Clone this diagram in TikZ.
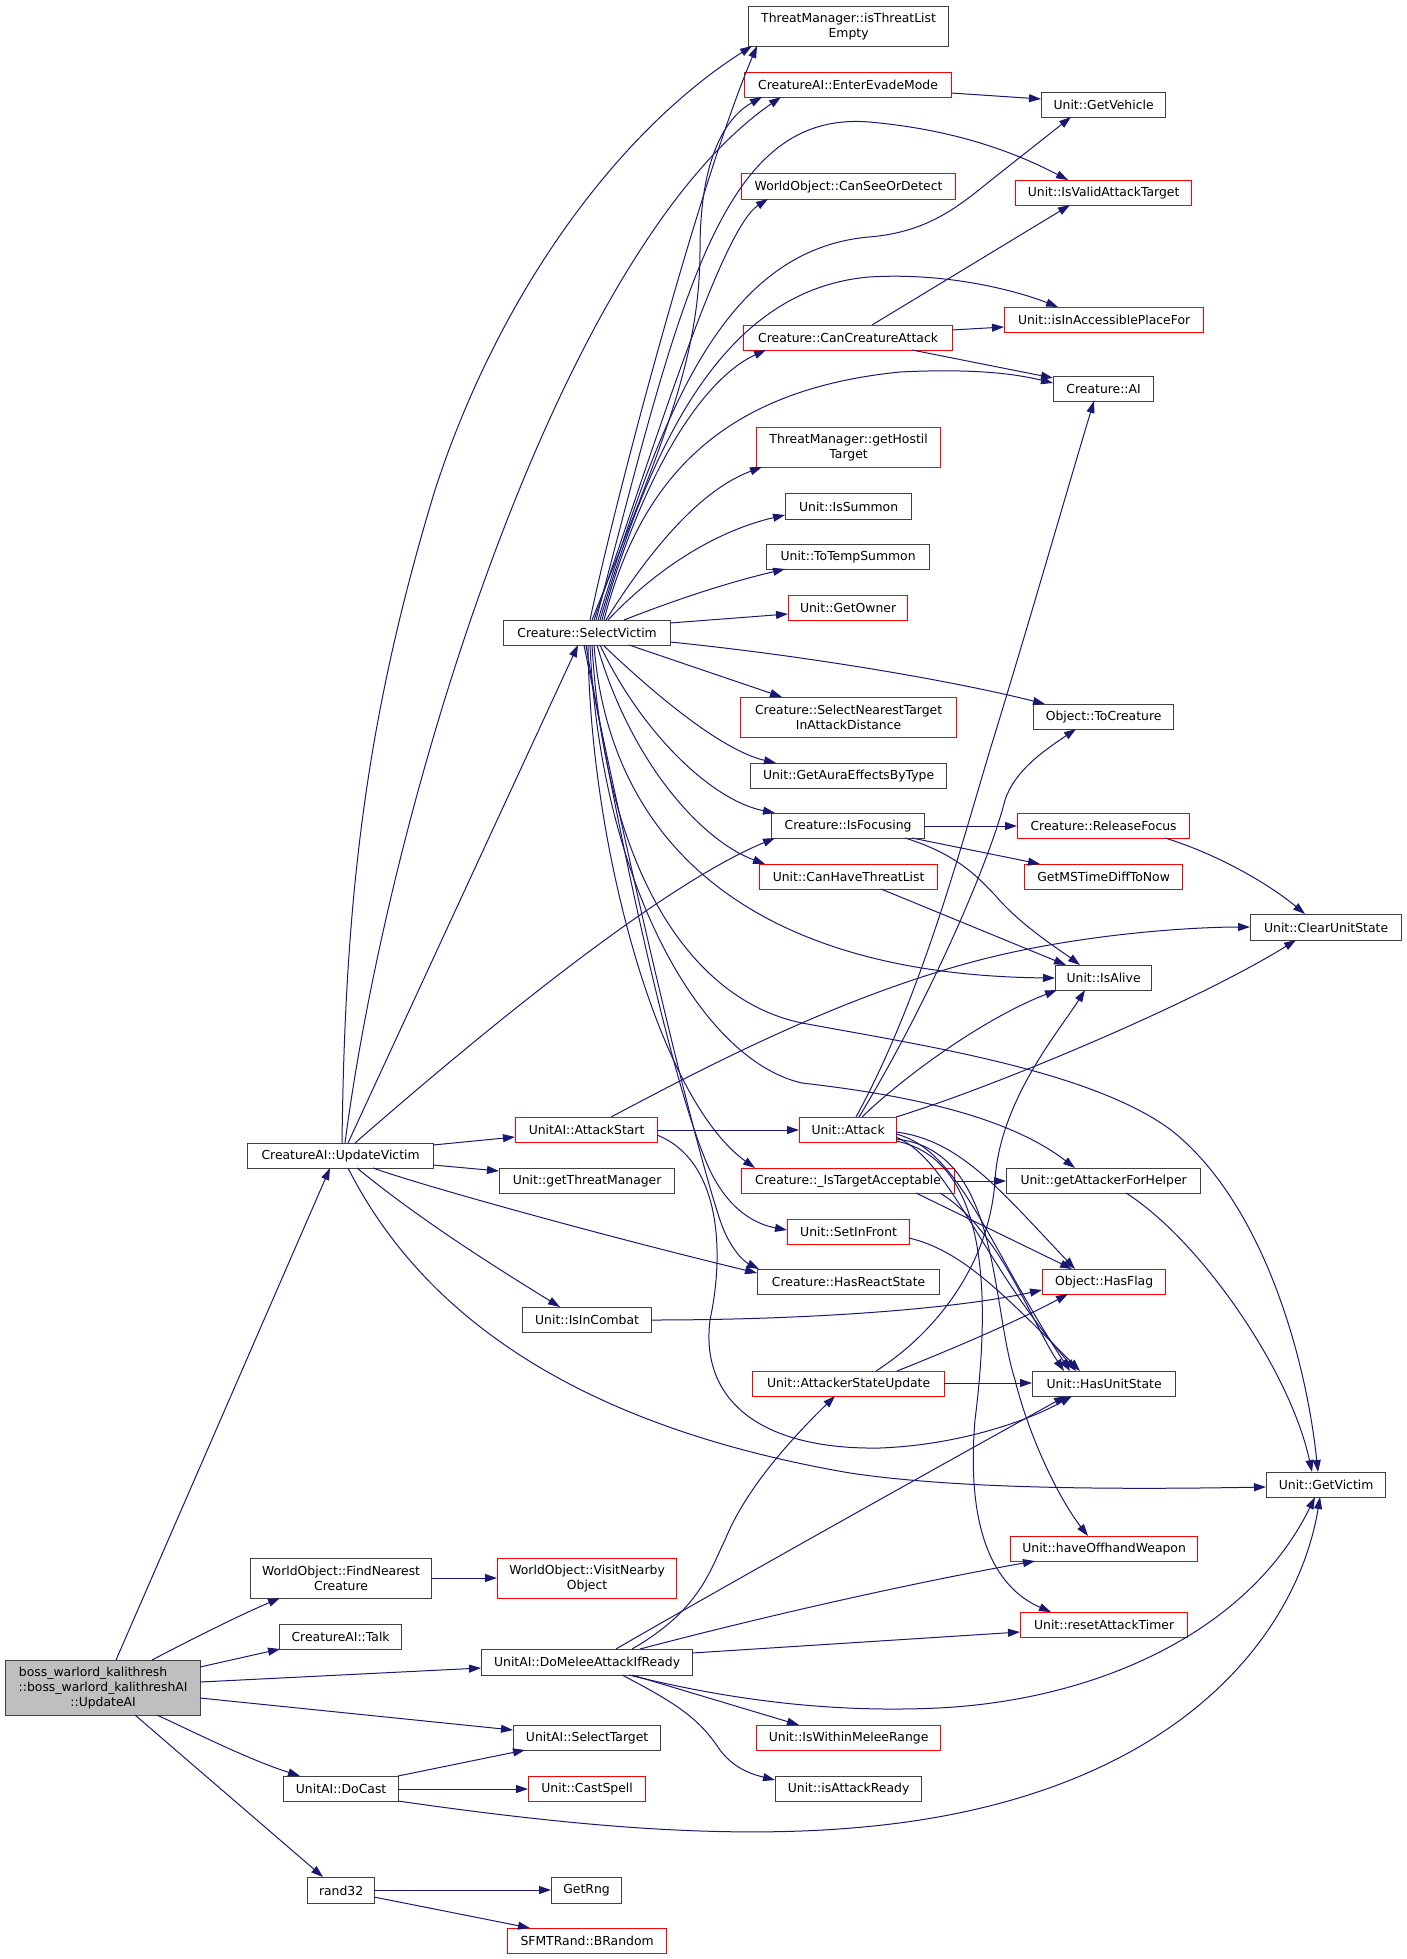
\documentclass[tikz,border=0pt]{standalone}
\usepackage{fontspec}
\setmainfont{DejaVu Sans}
\usetikzlibrary{arrows.meta}
\definecolor{edgec}{HTML}{191970}
\definecolor{boxk}{HTML}{404040}
\definecolor{boxr}{HTML}{FF0000}
\definecolor{bossf}{HTML}{BFBFBF}
\begin{document}
\begin{tikzpicture}[x=1pt,y=-1pt,
  nd/.style={draw=boxk, line width=1.2pt, fill=white, inner sep=0pt, anchor=north west, align=center, font=\fontsize{12.4}{15}\selectfont},
  rd/.style={nd, draw=boxr},
  e/.style={draw=edgec, line width=1pt, -{Triangle[length=12pt,width=8pt]}},
]
\fill[white] (0,0) rectangle (1407,1959);
\useasboundingbox (0,0) rectangle (1407,1959);

\node[nd,minimum width=200pt,minimum height=40pt] (ite) at (748,6) {ThreatManager::isThreatList\\Empty};
\node[rd,minimum width=207pt,minimum height=25pt] (eem) at (744,72) {CreatureAI::EnterEvadeMode};
\node[nd,minimum width=124pt,minimum height=25pt] (gv) at (1041,92) {Unit::GetVehicle};
\node[rd,minimum width=214pt,minimum height=26pt] (csd) at (741,173) {WorldObject::CanSeeOrDetect};
\node[rd,minimum width=176pt,minimum height=25pt] (ivat) at (1015,180) {Unit::IsValidAttackTarget};
\node[rd,minimum width=199pt,minimum height=25pt] (iapf) at (1004,307) {Unit::isInAccessiblePlaceFor};
\node[rd,minimum width=209pt,minimum height=25pt] (cca) at (743,325) {Creature::CanCreatureAttack};
\node[nd,minimum width=100pt,minimum height=25pt] (cai) at (1053,376) {Creature::AI};
\node[rd,minimum width=184pt,minimum height=40pt] (ght) at (756,427) {ThreatManager::getHostil\\Target};
\node[nd,minimum width=126pt,minimum height=26pt] (isu) at (785,493) {Unit::IsSummon};
\node[nd,minimum width=163pt,minimum height=25pt] (tts) at (766,544) {Unit::ToTempSummon};
\node[rd,minimum width=119pt,minimum height=25pt] (gow) at (788,595) {Unit::GetOwner};
\node[nd,minimum width=167pt,minimum height=25pt] (sv) at (503,620) {Creature::SelectVictim};
\node[rd,minimum width=216pt,minimum height=40pt] (snt) at (740,697) {Creature::SelectNearestTarget\\InAttackDistance};
\node[nd,minimum width=140pt,minimum height=25pt] (tcr) at (1033,704) {Object::ToCreature};
\node[nd,minimum width=196pt,minimum height=25pt] (gae) at (750,763) {Unit::GetAuraEffectsByType};
\node[nd,minimum width=153pt,minimum height=25pt] (isf) at (771,813) {Creature::IsFocusing};
\node[rd,minimum width=172pt,minimum height=25pt] (rf) at (1017,813) {Creature::ReleaseFocus};
\node[rd,minimum width=178pt,minimum height=25pt] (chtl) at (759,864) {Unit::CanHaveThreatList};
\node[rd,minimum width=158pt,minimum height=25pt] (gms) at (1024,864) {GetMSTimeDiffToNow};
\node[nd,minimum width=151pt,minimum height=26pt] (cus) at (1250,914) {Unit::ClearUnitState};
\node[nd,minimum width=96pt,minimum height=25pt] (ial) at (1055,965) {Unit::IsAlive};
\node[rd,minimum width=142pt,minimum height=25pt] (ast) at (515,1117) {UnitAI::AttackStart};
\node[rd,minimum width=97pt,minimum height=25pt] (att) at (799,1117) {Unit::Attack};
\node[nd,minimum width=186pt,minimum height=25pt] (uv) at (247,1143) {CreatureAI::UpdateVictim};
\node[nd,minimum width=175pt,minimum height=25pt] (gtm) at (499,1168) {Unit::getThreatManager};
\node[rd,minimum width=213pt,minimum height=25pt] (ita) at (741,1168) {Creature::\_IsTargetAcceptable};
\node[nd,minimum width=194pt,minimum height=25pt] (gafh) at (1006,1168) {Unit::getAttackerForHelper};
\node[rd,minimum width=122pt,minimum height=25pt] (sif) at (787,1219) {Unit::SetInFront};
\node[nd,minimum width=182pt,minimum height=25pt] (hrs) at (757,1269) {Creature::HasReactState};
\node[rd,minimum width=123pt,minimum height=25pt] (hfl) at (1042,1269) {Object::HasFlag};
\node[nd,minimum width=129pt,minimum height=25pt] (iic) at (522,1307) {Unit::IsInCombat};
\node[rd,minimum width=192pt,minimum height=25pt] (asu) at (752,1371) {Unit::AttackerStateUpdate};
\node[nd,minimum width=143pt,minimum height=25pt] (hus) at (1032,1371) {Unit::HasUnitState};
\node[nd,minimum width=119pt,minimum height=25pt] (gvi) at (1266,1472) {Unit::GetVictim};
\node[rd,minimum width=187pt,minimum height=25pt] (how) at (1010,1536) {Unit::haveOffhandWeapon};
\node[nd,minimum width=181pt,minimum height=40pt] (fnc) at (250,1558) {WorldObject::FindNearest\\Creature};
\node[rd,minimum width=179pt,minimum height=40pt] (vno) at (497,1558) {WorldObject::VisitNearby\\Object};
\node[rd,minimum width=167pt,minimum height=25pt] (rat) at (1020,1612) {Unit::resetAttackTimer};
\node[nd,minimum width=122pt,minimum height=25pt] (tlk) at (279,1624) {CreatureAI::Talk};
\node[nd,minimum width=211pt,minimum height=26pt] (dma) at (481,1649) {UnitAI::DoMeleeAttackIfReady};
\node[nd,fill=bossf,minimum width=195pt,minimum height=55pt] (boss) at (5,1660) {boss\_warlord\_kalithresh\kern20pt\\::boss\_warlord\_kalithreshAI\\::UpdateAI};
\node[nd,minimum width=147pt,minimum height=25pt] (slt) at (513,1725) {UnitAI::SelectTarget};
\node[rd,minimum width=184pt,minimum height=25pt] (iwm) at (756,1725) {Unit::IsWithinMeleeRange};
\node[nd,minimum width=115pt,minimum height=25pt] (dca) at (283,1776) {UnitAI::DoCast};
\node[rd,minimum width=117pt,minimum height=25pt] (csp) at (528,1776) {Unit::CastSpell};
\node[nd,minimum width=146pt,minimum height=25pt] (iar) at (775,1776) {Unit::isAttackReady};
\node[nd,minimum width=67pt,minimum height=26pt] (r32) at (307,1877) {rand32};
\node[nd,minimum width=70pt,minimum height=26pt] (grn) at (551,1877) {GetRng};
\node[rd,minimum width=159pt,minimum height=25pt] (brd) at (507,1928) {SFMTRand::BRandom};

% SelectVictim upward
\draw[e] ([shift={(87,0)}]sv.north west) .. controls (615,500) and (700,180) .. ([shift={(9,40)}]ite.north west);
\draw[e] ([shift={(89,0)}]sv.north west) .. controls (660,450) and (700,360) .. (700,250) .. controls (700,150) and (730,115) .. ([shift={(18,25)}]eem.north west);
\draw[e] ([shift={(91,0)}]sv.north west) .. controls (650,460) and (720,230) .. ([shift={(27,26)}]csd.north west);
\draw[e] ([shift={(93,0)}]sv.north west) .. controls (680,300) and (720,110) .. (869,122) .. controls (960,130) and (1020,155) .. ([shift={(53,0)}]ivat.north west);
\draw[e] ([shift={(95,0)}]sv.north west) .. controls (660,420) and (720,250) .. (869,237) .. controls (930,232) and (960,205) .. (995,177) -- ([shift={(30,25)}]gv.north west);
\draw[e] ([shift={(97,0)}]sv.north west) .. controls (650,450) and (720,290) .. (869,277) .. controls (950,272) and (1020,292) .. ([shift={(54,0)}]iapf.north west);
\draw[e] ([shift={(99,0)}]sv.north west) .. controls (640,480) and (700,380) .. ([shift={(23,25)}]cca.north west);
\draw[e] ([shift={(101,0)}]sv.north west) .. controls (640,480) and (720,390) .. (900,372) .. controls (980,368) and (1020,375) .. ([shift={(0,7)}]cai.north west);
\draw[e] ([shift={(103,0)}]sv.north west) .. controls (650,550) and (700,490) .. ([shift={(6,40)}]ght.north west);
\draw[e] ([shift={(105,0)}]sv.north west) .. controls (660,565) and (720,530) .. ([shift={(0,22)}]isu.north west);
\draw[e] ([shift={(121,0)}]sv.north west) .. controls (680,598) and (730,582) .. ([shift={(19,25)}]tts.north west);
\draw[e] ([shift={(167,3)}]sv.north west) -- ([shift={(0,19)}]gow.north west);
\draw[e] ([shift={(167,22)}]sv.north west) .. controls (800,655) and (950,680) .. ([shift={(12,0)}]tcr.north west);
% SelectVictim downward
\draw[e] ([shift={(126,25)}]sv.north west) -- ([shift={(42,0)}]snt.north west);
\draw[e] ([shift={(100,25)}]sv.north west) .. controls (650,690) and (720,750) .. ([shift={(26,0)}]gae.north west);
\draw[e] ([shift={(97,25)}]sv.north west) .. controls (640,730) and (710,800) .. ([shift={(4,0)}]isf.north west);
\draw[e] ([shift={(94,25)}]sv.north west) .. controls (630,760) and (700,840) .. ([shift={(6,0)}]chtl.north west);
\draw[e] ([shift={(91,25)}]sv.north west) .. controls (610,850) and (760,975) .. ([shift={(0,13)}]ial.north west);
\draw[e] ([shift={(89,25)}]sv.north west) .. controls (605,870) and (690,1000) .. (802,1023) .. controls (920,1045) and (1090,1070) .. (1171,1130) .. controls (1260,1200) and (1305,1350) .. ([shift={(52,0)}]gvi.north west);
\draw[e] ([shift={(87,25)}]sv.north west) .. controls (600,880) and (700,1060) .. (802,1083) .. controls (880,1092) and (1000,1110) .. ([shift={(69,0)}]gafh.north west);
\draw[e] ([shift={(85,25)}]sv.north west) .. controls (590,850) and (660,1100) .. ([shift={(14,0)}]ita.north west);
\draw[e] ([shift={(83,25)}]sv.north west) .. controls (620,850) and (680,1120) .. (715,1180) .. controls (735,1215) and (760,1225) .. ([shift={(0,11)}]sif.north west);
\draw[e] ([shift={(81,25)}]sv.north west) .. controls (625,850) and (690,1130) .. (720,1220) .. controls (730,1250) and (745,1262) .. ([shift={(2,0)}]hrs.north west);

% UpdateVictim
\draw[e] ([shift={(95,0)}]uv.north west) .. controls (345,900) and (365,720) .. (435,490) .. controls (500,290) and (620,130) .. ([shift={(4,40)}]ite.north west);
\draw[e] ([shift={(98,0)}]uv.north west) .. controls (390,800) and (560,250) .. ([shift={(37,25)}]eem.north west);
\draw[e] ([shift={(101,0)}]uv.north west) -- ([shift={(75,25)}]sv.north west);
\draw[e] ([shift={(108,0)}]uv.north west) .. controls (450,1060) and (650,890) .. ([shift={(4,25)}]isf.north west);
\draw[e] ([shift={(186,2)}]uv.north west) -- ([shift={(0,20)}]ast.north west);
\draw[e] ([shift={(186,22)}]uv.north west) -- ([shift={(0,3)}]gtm.north west);
\draw[e] ([shift={(126,25)}]uv.north west) .. controls (420,1185) and (600,1235) .. ([shift={(0,4)}]hrs.north west);
\draw[e] ([shift={(110,25)}]uv.north west) .. controls (420,1220) and (500,1270) .. ([shift={(38,0)}]iic.north west);
\draw[e] ([shift={(101,25)}]uv.north west) .. controls (430,1330) and (600,1430) .. (850,1473) .. controls (950,1488) and (1100,1490) .. ([shift={(0,15)}]gvi.north west);

% boss
\draw[e] ([shift={(111,0)}]boss.north west) -- ([shift={(83,25)}]uv.north west);
\draw[e] ([shift={(147,0)}]boss.north west) .. controls (190,1640) and (240,1615) .. ([shift={(30,40)}]fnc.north west);
\draw[e] ([shift={(195,7)}]boss.north west) -- ([shift={(1,25)}]tlk.north west);
\draw[e] ([shift={(195,22)}]boss.north west) -- ([shift={(0,19)}]dma.north west);
\draw[e] ([shift={(195,38)}]boss.north west) -- ([shift={(0,5)}]slt.north west);
\draw[e] ([shift={(152,55)}]boss.north west) .. controls (200,1735) and (250,1760) .. ([shift={(17,0)}]dca.north west);
\draw[e] ([shift={(130,55)}]boss.north west) -- ([shift={(16,0)}]r32.north west);

\draw[e] ([shift={(181,20)}]fnc.north west) -- ([shift={(0,20)}]vno.north west);
\draw[e] ([shift={(115,0)}]dca.north west) -- ([shift={(12,25)}]slt.north west);
\draw[e] ([shift={(115,13)}]dca.north west) -- ([shift={(0,13)}]csp.north west);
\draw[e] ([shift={(115,25)}]dca.north west) .. controls (600,1830) and (780,1845) .. (938,1817) .. controls (1200,1770) and (1300,1620) .. ([shift={(54,25)}]gvi.north west);
\draw[e] ([shift={(67,13)}]r32.north west) -- ([shift={(0,13)}]grn.north west);
\draw[e] ([shift={(67,20)}]r32.north west) -- ([shift={(23,0)}]brd.north west);

% DoMeleeAttackIfReady
\draw[e] ([shift={(151,0)}]dma.north west) .. controls (700,1610) and (710,1570) .. (725,1540) .. controls (745,1490) and (790,1440) .. ([shift={(83,25)}]asu.north west);
\draw[e] ([shift={(135,0)}]dma.north west) .. controls (700,1600) and (950,1460) .. ([shift={(34,25)}]hus.north west);
\draw[e] ([shift={(159,0)}]dma.north west) .. controls (750,1620) and (900,1585) .. ([shift={(25,25)}]how.north west);
\draw[e] ([shift={(211,4)}]dma.north west) -- ([shift={(0,20)}]rat.north west);
\draw[e] ([shift={(148,26)}]dma.north west) .. controls (750,1705) and (850,1712) .. (938,1708) .. controls (1100,1700) and (1250,1630) .. ([shift={(49,25)}]gvi.north west);
\draw[e] ([shift={(151,26)}]dma.north west) -- ([shift={(43,0)}]iwm.north west);
\draw[e] ([shift={(141,26)}]dma.north west) .. controls (680,1705) and (700,1720) .. (720,1750) .. controls (735,1770) and (755,1775) .. ([shift={(0,4)}]iar.north west);

% AttackStart
\draw[e] ([shift={(142,13)}]ast.north west) -- ([shift={(0,13)}]att.north west);
\draw[e] ([shift={(96,0)}]ast.north west) .. controls (700,1070) and (850,990) .. (1000,955) .. controls (1100,932) and (1200,927) .. ([shift={(0,13)}]cus.north west);
\draw[e] ([shift={(142,18)}]ast.north west) .. controls (720,1160) and (725,1250) .. (710,1320) .. controls (700,1400) and (760,1450) .. (880,1448) .. controls (960,1445) and (1030,1420) .. ([shift={(40,25)}]hus.north west);

% Attack
\draw[e] ([shift={(57,0)}]att.north west) .. controls (920,1000) and (960,850) .. (990,750) .. controls (1030,620) and (1070,480) .. ([shift={(41,25)}]cai.north west);
\draw[e] ([shift={(60,0)}]att.north west) .. controls (930,1000) and (990,860) .. (1005,800) .. controls (1015,770) and (1045,750) .. ([shift={(43,25)}]tcr.north west);
\draw[e] ([shift={(63,0)}]att.north west) .. controls (900,1080) and (980,1020) .. ([shift={(2,25)}]ial.north west);
\draw[e] ([shift={(97,0)}]att.north west) .. controls (1000,1085) and (1200,1000) .. ([shift={(46,26)}]cus.north west);
\draw[e] ([shift={(97,15)}]att.north west) .. controls (960,1140) and (1000,1190) .. ([shift={(33,0)}]hfl.north west);
\draw[e] ([shift={(97,17)}]att.north west) .. controls (960,1150) and (990,1250) .. ([shift={(38,0)}]hus.north west);
\draw[e] ([shift={(97,20)}]att.north west) .. controls (950,1160) and (980,1260) .. ([shift={(44,0)}]hus.north west);
\draw[e] ([shift={(97,22)}]att.north west) .. controls (1000,1150) and (990,1300) .. (1015,1380) .. controls (1030,1440) and (1060,1500) .. ([shift={(78,0)}]how.north west);
\draw[e] ([shift={(97,24)}]att.north west) .. controls (990,1160) and (990,1300) .. (975,1420) .. controls (965,1540) and (1000,1590) .. ([shift={(31,0)}]rat.north west);

% _IsTargetAcceptable etc
\draw[e] ([shift={(213,13)}]ita.north west) -- ([shift={(0,13)}]gafh.north west);
\draw[e] ([shift={(175,25)}]ita.north west) -- ([shift={(30,0)}]hfl.north west);
\draw[e] ([shift={(199,25)}]ita.north west) .. controls (1000,1230) and (1030,1320) .. ([shift={(32,0)}]hus.north west);
\draw[e] ([shift={(122,19)}]sif.north west) .. controls (960,1250) and (1000,1290) .. ([shift={(48,0)}]hus.north west);
\draw[e] ([shift={(129,13)}]iic.north west) .. controls (800,1320) and (950,1310) .. ([shift={(0,21)}]hfl.north west);
\draw[e] ([shift={(124,0)}]asu.north west) .. controls (940,1330) and (990,1260) .. (995,1180) .. controls (1000,1100) and (1060,1030) .. ([shift={(30,25)}]ial.north west);
\draw[e] ([shift={(145,0)}]asu.north west) .. controls (950,1350) and (1020,1320) .. ([shift={(26,25)}]hfl.north west);
\draw[e] ([shift={(192,12)}]asu.north west) -- ([shift={(0,12)}]hus.north west);
\draw[e] ([shift={(120,25)}]gafh.north west) .. controls (1200,1240) and (1290,1370) .. ([shift={(46,0)}]gvi.north west);
\draw[e] ([shift={(129,0)}]cca.north west) -- ([shift={(55,25)}]ivat.north west);
\draw[e] ([shift={(209,5)}]cca.north west) -- ([shift={(0,20)}]iapf.north west);
\draw[e] ([shift={(169,25)}]cca.north west) -- ([shift={(0,2)}]cai.north west);
\draw[e] ([shift={(207,21)}]eem.north west) -- ([shift={(0,7)}]gv.north west);
\draw[e] ([shift={(153,13)}]isf.north west) -- ([shift={(0,13)}]rf.north west);
\draw[e] ([shift={(141,25)}]isf.north west) -- ([shift={(16,0)}]gms.north west);
\draw[e] ([shift={(134,25)}]isf.north west) .. controls (960,855) and (980,880) .. (995,895) .. controls (1020,925) and (1060,950) .. ([shift={(25,0)}]ial.north west);
\draw[e] ([shift={(148,25)}]rf.north west) .. controls (1220,855) and (1270,885) .. ([shift={(55,0)}]cus.north west);
\draw[e] ([shift={(122,25)}]chtl.north west) -- ([shift={(11,0)}]ial.north west);
\end{tikzpicture}
\end{document}
